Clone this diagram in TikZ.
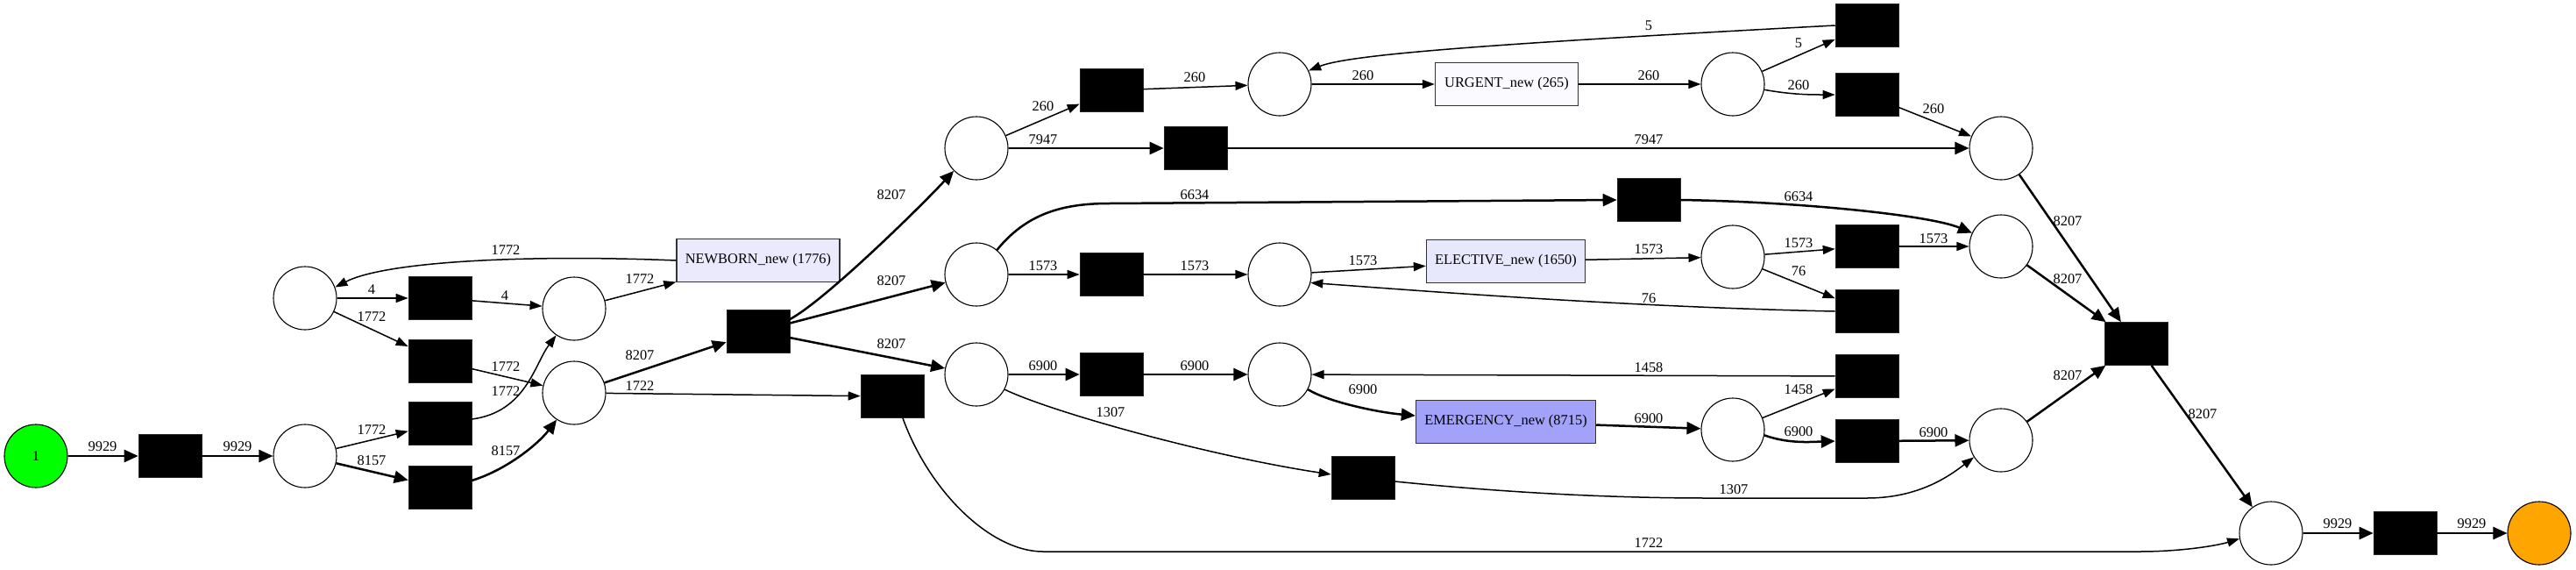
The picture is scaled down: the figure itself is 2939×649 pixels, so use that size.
\documentclass[tikz,border=0pt]{standalone}
\usepackage{fontspec}
\setmainfont{Liberation Serif}
\usetikzlibrary{arrows.meta}
\definecolor{startgreen}{HTML}{00FF00}
\definecolor{endorange}{HTML}{FFA500}
\definecolor{actlight}{HTML}{EAEAFC}
\definecolor{actpale}{HTML}{FAFAFF}
\definecolor{actelect}{HTML}{E8E8FC}
\definecolor{actstrong}{HTML}{A2A2F8}
\definecolor{boxline}{HTML}{333333}
\begin{document}
\begin{tikzpicture}[x=0.5pt,y=-0.5pt,
  font=\fontsize{8.2}{10}\selectfont,
  place/.style={circle,draw=black,line width=0.55pt,minimum size=36pt,inner sep=0pt,fill=white},
  trans/.style={rectangle,fill=black,draw=black!85,line width=0.3pt,minimum width=36pt,minimum height=24.5pt,inner sep=0pt},
  act/.style={rectangle,draw=boxline,line width=0.7pt,minimum height=24.5pt,inner sep=0pt},
  arc/.style={-{Triangle[length=7pt,width=5pt]},line width=0.75pt},
  arcb/.style={-{Triangle[length=8pt,width=7pt]},line width=1.25pt},
  lbl/.style={inner sep=0pt,anchor=center}]
\useasboundingbox (0,0) rectangle (2939,649);

% places
\node[place,fill=startgreen] (ps) at (41,520) {1};
\node[place] (p1) at (348,520) {};
\node[place] (ptl) at (348,340) {};
\node[place] (pmid) at (655,352) {};
\node[place] (pmerge) at (655,448) {};
\node[place] (pu1) at (1114,169) {};
\node[place] (pm1) at (1114,313) {};
\node[place] (pem1) at (1114,427) {};
\node[place] (pu2) at (1460,96) {};
\node[place] (pe2) at (1460,313) {};
\node[place] (pem2) at (1460,427) {};
\node[place] (pu3) at (1977,96) {};
\node[place] (pe3) at (1977,293) {};
\node[place] (pem3) at (1977,490) {};
\node[place] (pr1) at (2283,169) {};
\node[place] (pr2) at (2283,281) {};
\node[place] (pr3) at (2283,502) {};
\node[place] (pend) at (2591,608) {};
\node[place,fill=endorange] (pf) at (2897,608) {};

% transitions
\node[trans] (t1) at (194,520) {};
\node[trans] (ta) at (502,483) {};
\node[trans] (tb) at (502,556) {};
\node[trans] (tc) at (502,340) {};
\node[trans] (td) at (502,412) {};
\node[trans] (tsplit) at (865,378) {};
\node[trans] (tskip) at (1018,452) {};
\node[trans] (t260a) at (1268,103) {};
\node[trans] (t7947) at (1364,169) {};
\node[trans] (t6634) at (1881,228) {};
\node[trans] (t1573a) at (1268,313) {};
\node[trans] (t6900a) at (1268,427) {};
\node[trans] (t1307) at (1555,545) {};
\node[trans] (t5) at (2130,29) {};
\node[trans] (t260b) at (2130,108) {};
\node[trans] (t1573b) at (2130,281) {};
\node[trans] (t76) at (2130,355) {};
\node[trans] (t1458) at (2130,429) {};
\node[trans] (t6900b) at (2130,503) {};
\node[trans] (tjoin) at (2437,392) {};
\node[trans] (tend) at (2744,608) {};

% activities
\node[act,fill=actlight,minimum width=93pt] (newborn) at (865,297) {NEWBORN\_new (1776)};
\node[act,fill=actpale,minimum width=81.5pt] (urgent) at (1719,96) {URGENT\_new (265)};
\node[act,fill=actelect,minimum width=90.5pt] (elective) at (1718,298) {ELECTIVE\_new (1650)};
\node[act,fill=actstrong,minimum width=102.5pt] (emergency) at (1718,481) {EMERGENCY\_new (8715)};

% arcs
\draw[arcb] (ps) -- (t1);
\draw[arcb] (t1) -- (p1);
\draw[arc] (p1) -- (ta);
\draw[arcb] (p1) -- (tb);
\draw[arc] (ptl) -- (tc);
\draw[arc] (ptl) -- (td);
\draw[arc] ([yshift=2.5pt]ta.east) .. controls (600,470) and (610,415) .. (pmid.236);
\draw[arcb] ([yshift=4pt]tb.east) .. controls (580,535) and (615,505) .. (pmerge.237);
\draw[arc] (tc) -- (pmid);
\draw[arc] (td) -- (pmerge);
\draw[arc] (pmid) -- (newborn);
\draw[arc] (newborn.west) .. controls (600,290) and (440,298) .. (ptl.20);
\draw[arcb] (pmerge) -- (tsplit);
\draw[arc] (pmerge) -- (tskip);
\draw[arcb] ([yshift=7pt]tsplit.east) .. controls (942,342) and (1050,236) .. (pu1.225);
\draw[arcb] (tsplit) -- (pm1);
\draw[arcb] (tsplit) -- (pem1);
\draw[arc] (pu1) -- (t260a);
\draw[arcb] (pu1) -- (t7947);
\draw[arcb] (t7947) -- (pr1);
\draw[arc] (t260a) -- (pu2);
\draw[arc] (pu2) -- (urgent);
\draw[arc] (urgent) -- (pu3);
\draw[arc] (pu3) -- (t5);
\draw[arc] (pu3.-10) .. controls (2045,108) and (2065,108) .. (t260b.west);
\draw[arc] (t5.west) .. controls (1700,50) and (1540,62) .. (pu2.25);
\draw[arc] (t260b) -- (pr1);
\draw[arcb] (pm1.50) .. controls (1170,245) and (1210,232) .. (1265,232) -- (t6634.west);
\draw[arcb] (t6634.east) .. controls (2050,230) and (2200,245) .. (pr2.155);
\draw[arc] (pm1) -- (t1573a);
\draw[arc] (t1573a) -- (pe2);
\draw[arc] (pe2) -- (elective);
\draw[arc] (elective) -- (pe3);
\draw[arc] (pe3) -- (t1573b);
\draw[arc] (pe3) -- (t76);
\draw[arc] (t76.west) .. controls (1850,350) and (1600,330) .. (pe2.-15);
\draw[arc] (t1573b) -- (pr2);
\draw[arcb] (pr1) -- (tjoin);
\draw[arcb] (pr2) -- (tjoin);
\draw[arcb] (pr3) -- (tjoin);
\draw[arcb] (tjoin) -- (pend);
\draw[arcb] (pem1) -- (t6900a);
\draw[arcb] (t6900a) -- (pem2);
\draw[arcb] (pem2.-28) .. controls (1515,458) and (1570,470) .. ([yshift=3.5pt]emergency.west);
\draw[arcb] (emergency) -- (pem3);
\draw[arc] (t1458) -- (pem2);
\draw[arc] (pem3) -- (t1458);
\draw[arcb] (pem3.-10) .. controls (2040,506) and (2065,504) .. (t6900b.west);
\draw[arcb] (t6900b) -- (pr3);
\draw[arc] (pem1.-28) .. controls (1200,470) and (1380,520) .. ([yshift=2pt]t1307.west);
\draw[arc] ([yshift=-2pt]t1307.east) .. controls (1720,562) and (1840,568) .. (1950,568) -- (2130,568) .. controls (2190,568) and (2225,542) .. (pr3.212);
\draw[arc] ([xshift=6pt]tskip.south) .. controls (1060,560) and (1130,629) .. (1190,629) -- (2440,629) .. controls (2490,629) and (2530,622) .. (pend.190);
\draw[arcb] (pend) -- (tend);
\draw[arcb] (tend) -- (pf);

% labels
\node[lbl] (l1) at (117,509) {9929};
\node[lbl] (l2) at (271,509) {9929};
\node[lbl] (l3) at (424,490) {1772};
\node[lbl] (l4) at (424,525) {8157};
\node[lbl] (l5) at (424,330) {4};
\node[lbl] (l6) at (424,361) {1772};
\node[lbl] (l7) at (576,337) {4};
\node[lbl] (l8) at (577,418) {1772};
\node[lbl] (l9) at (577,446) {1772};
\node[lbl] (l10) at (577,514) {8157};
\node[lbl] (l11) at (730,318) {1772};
\node[lbl] (l12) at (577,285) {1772};
\node[lbl] (l13) at (730,405) {8207};
\node[lbl] (l14) at (730,440) {1722};
\node[lbl] (l15) at (1881,29) {5};
\node[lbl] (l16) at (1363,88) {260};
\node[lbl] (l17) at (1555,86) {260};
\node[lbl] (l18) at (1881,86) {260};
\node[lbl] (l19) at (1190,121) {260};
\node[lbl] (l20) at (1190,159) {7947};
\node[lbl] (l21) at (1881,159) {7947};
\node[lbl] (l22) at (1017,222) {8207};
\node[lbl] (l23) at (1363,222) {6634};
\node[lbl] (l24) at (1017,320) {8207};
\node[lbl] (l25) at (1190,303) {1573};
\node[lbl] (l26) at (1363,303) {1573};
\node[lbl] (l27) at (1555,297) {1573};
\node[lbl] (l28) at (1881,284) {1573};
\node[lbl] (l29) at (1017,392) {8207};
\node[lbl] (l30) at (1190,417) {6900};
\node[lbl] (l31) at (1363,417) {6900};
\node[lbl] (l32) at (1881,419) {1458};
\node[lbl] (l33) at (1555,444) {6900};
\node[lbl] (l34) at (1267,470) {1307};
\node[lbl] (l35) at (1881,477) {6900};
\node[lbl] (l36) at (1881,340) {76};
\node[lbl] (l37) at (1881,619) {1722};
\node[lbl] (l38) at (2052,49) {5};
\node[lbl] (l39) at (2052,97) {260};
\node[lbl] (l40) at (2206,124) {260};
\node[lbl] (l41) at (2052,224) {6634};
\node[lbl] (l42) at (2359,252) {8207};
\node[lbl] (l43) at (2052,277) {1573};
\node[lbl] (l44) at (2206,272) {1573};
\node[lbl] (l45) at (2052,309) {76};
\node[lbl] (l46) at (2359,318) {8207};
\node[lbl] (l47) at (2052,444) {1458};
\node[lbl] (l48) at (2052,492) {6900};
\node[lbl] (l49) at (2206,493) {6900};
\node[lbl] (l50) at (2359,428) {8207};
\node[lbl] (l51) at (2513,472) {8207};
\node[lbl] (l52) at (1978,558) {1307};
\node[lbl] (l53) at (2667,597) {9929};
\node[lbl] (l54) at (2820,597) {9929};
\end{tikzpicture}
\end{document}
